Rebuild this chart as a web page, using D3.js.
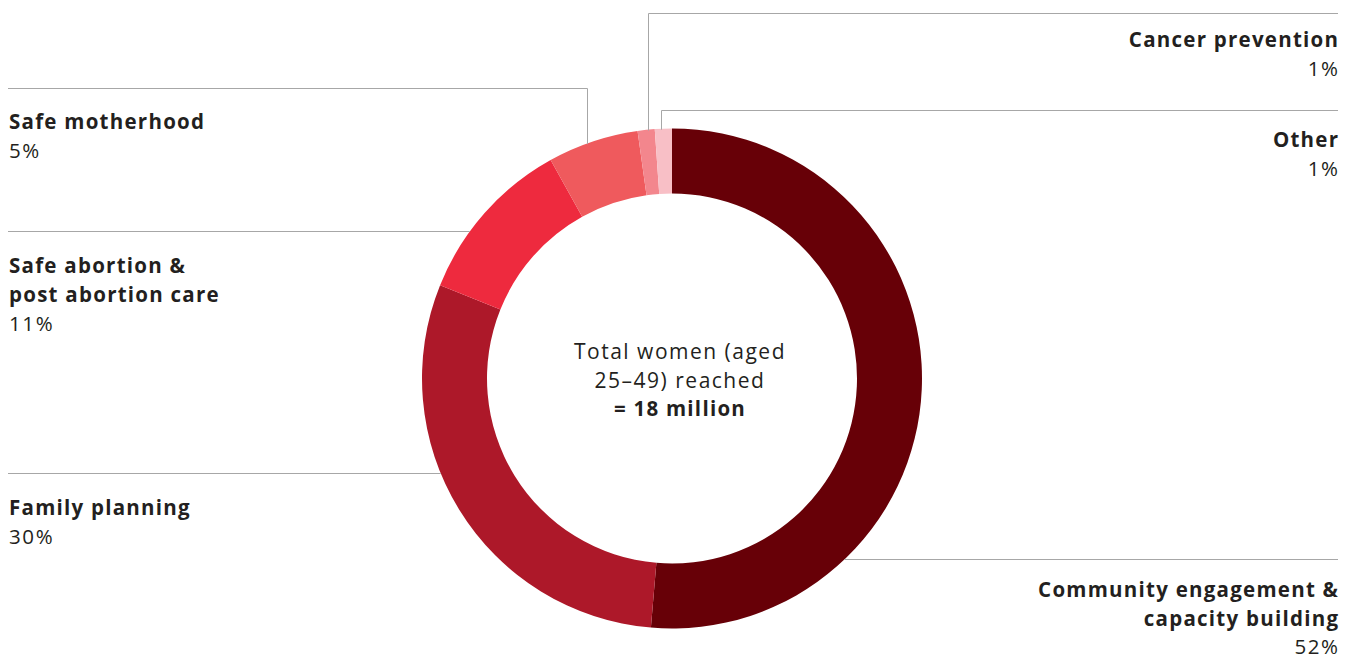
<!DOCTYPE html>
<html>
<head>
<meta charset="utf-8">
<script src="https://cdn.jsdelivr.net/npm/d3@7"></script>
<style>
  html, body { margin: 0; padding: 0; background: #fff; }
  svg { display: block; }
  text { font-family: "Open Sans", Lato, sans-serif; fill: #231f20; }
</style>
</head>
<body>
<svg id="chart" width="1355" height="660"></svg>
<script>
// ---- data ----
const categories = ["Community engagement & capacity building", "Family planning", "Safe abortion & post abortion care", "Safe motherhood", "Cancer prevention", "Other"];
const values = [51.35, 29.75, 10.84, 5.87, 1.1, 1.1];
const percentLabels = ["52%", "30%", "11%", "5%", "1%", "1%"];
const labelLines = [
  ["Community engagement &", "capacity building"],
  ["Family planning"],
  ["Safe abortion &", "post abortion care"],
  ["Safe motherhood"],
  ["Cancer prevention"],
  ["Other"]
];
const colors = ["#670007", "#ad1829", "#ee2a3e", "#ef5a5d", "#f3868d", "#f8bfc6"];
const centerLines = ["Total women (aged", "25\u201349) reached"];
const centerTotal = "= 18 million";

// ---- layout ----
const svg = d3.select("#chart");
const cx = 672, cy = 378.5, R = 250, r = 185;
const lineColor = "#a7a7a7";

const data = categories.map((c, i) => ({ cat: c, value: values[i], pct: percentLabels[i], lines: labelLines[i], color: colors[i] }));

const pie = d3.pie().value(d => d.value).sort(null);
const arcs = pie(data);
const arc = d3.arc().innerRadius(r).outerRadius(R);

const g = svg.append("g").attr("transform", `translate(${cx},${cy})`);
g.selectAll("path").data(arcs).join("path")
  .attr("d", arc)
  .attr("fill", d => d.data.color);

function ringX(y, side) {
  const dy = y - cy;
  const dx = Math.sqrt(Math.max(0, R * R - dy * dy));
  return cx + side * dx;
}
function ringYTop(x) {
  const dx = x - cx;
  return cy - Math.sqrt(Math.max(0, R * R - dx * dx));
}

const leftX = 9, rightX = 1338;
const leaders = {
  0: { type: "h", y: 559.5, side: 1 },
  1: { type: "h", y: 473.5, side: -1 },
  2: { type: "h", y: 231.5, side: -1 },
  3: { type: "elbow", y: 88.5, x: 587.5, side: -1 },
  4: { type: "elbow", y: 13.5, x: 648.5, side: 1 },
  5: { type: "elbow", y: 110.5, x: 661.5, side: 1 }
};
const leaderG = svg.append("g").attr("fill", "none").attr("stroke", lineColor).attr("stroke-width", 1);
Object.keys(leaders).forEach(k => {
  const L = leaders[k];
  let pts;
  if (L.type === "h") {
    const xr = ringX(L.y, L.side);
    pts = L.side < 0 ? [[8, L.y], [xr, L.y]] : [[xr, L.y], [rightX, L.y]];
  } else {
    const yr = ringYTop(L.x) + 1;
    pts = L.side < 0 ? [[8, L.y], [L.x, L.y], [L.x, yr]] : [[rightX, L.y], [L.x, L.y], [L.x, yr]];
  }
  leaderG.append("path").attr("d", d3.line()(pts));
});

const labelPos = {
  0: { x: rightX, y: 590, anchor: "end", lh: 28.5 },
  1: { x: leftX, y: 508, anchor: "start", lh: 29 },
  2: { x: leftX, y: 266, anchor: "start", lh: 29 },
  3: { x: leftX, y: 122, anchor: "start", lh: 29 },
  4: { x: rightX, y: 40, anchor: "end", lh: 29 },
  5: { x: rightX, y: 140, anchor: "end", lh: 29 }
};
const fs = 20.5;
const lsBold = 1.25, lsReg = 1.6;
data.forEach((d, i) => {
  const p = labelPos[i];
  const t = svg.append("g");
  d.lines.forEach((ln, j) => {
    t.append("text")
      .attr("x", p.anchor === "end" ? p.x + lsBold : p.x).attr("y", p.y + j * p.lh)
      .attr("dy", "0.35em")
      .attr("text-anchor", p.anchor)
      .attr("font-size", fs)
      .attr("font-weight", 700)
      .attr("letter-spacing", lsBold)
      .text(ln);
  });
  t.append("text")
    .attr("x", p.anchor === "end" ? p.x + lsReg : p.x)
    .attr("y", p.y + d.lines.length * p.lh)
    .attr("dy", "0.35em")
    .attr("text-anchor", p.anchor)
    .attr("font-size", fs)
    .attr("font-weight", 400)
    .attr("letter-spacing", lsReg)
    .text(d.pct);
});

centerLines.forEach((ln, j) => {
  svg.append("text")
    .attr("x", cx + 8).attr("y", 352 + j * 28.5)
    .attr("dy", "0.35em")
    .attr("text-anchor", "middle")
    .attr("font-size", 21)
    .attr("font-weight", 400)
    .attr("letter-spacing", 1.5)
    .text(ln);
});
svg.append("text")
  .attr("x", cx + 8).attr("y", 352 + 2 * 28.5)
  .attr("dy", "0.35em")
  .attr("text-anchor", "middle")
  .attr("font-size", fs)
  .attr("font-weight", 700)
  .attr("letter-spacing", lsBold)
  .text(centerTotal);
</script>
</body>
</html>
